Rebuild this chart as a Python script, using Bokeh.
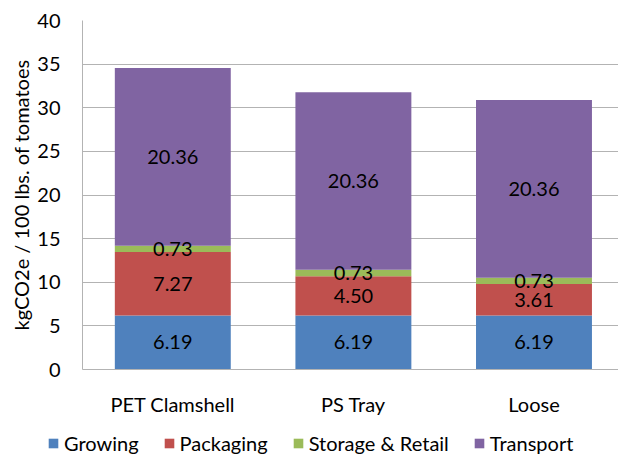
from bokeh.plotting import figure
from bokeh.layouts import column
from bokeh.models import ColumnDataSource, Range1d, FixedTicker, Legend, LegendItem
from bokeh.core.properties import value
from bokeh.embed import file_html
from bokeh.resources import INLINE

# Carbon footprint of 100 lbs. of tomatoes by packaging option
packages = ["PET Clamshell", "PS Tray", "Loose"]
stages = ["Growing", "Packaging", "Storage & Retail", "Transport"]
growing = [6.19, 6.19, 6.19]
packaging = [7.27, 4.50, 3.61]
storage_retail = [0.73, 0.73, 0.73]
transport = [20.36, 20.36, 20.36]
y_ticks = [0, 5, 10, 15, 20, 25, 30, 35, 40]

colors = ["#4F81BD", "#C0504D", "#9BBB59", "#8064A2"]
keys = ["growing", "packaging", "storage", "transport"]
series = [growing, packaging, storage_retail, transport]

FONT = "Lato"
x = [i + 0.5 for i in range(len(packages))]

data = {"x": x}
for k, s in zip(keys, series):
    data[k] = s
source = ColumnDataSource(data)

p = figure(width=618, height=425, output_backend="svg", toolbar_location=None,
           x_range=Range1d(0, 2.968), y_range=Range1d(0, 40),
           min_border_left=82, min_border_right=0, min_border_top=20,
           min_border_bottom=56)
p.outline_line_color = None
p.background_fill_color = "white"
p.border_fill_color = "white"

p.vbar_stack(keys, x="x", width=0.642, color=colors, line_color=None, source=source)

# value labels centred in each segment
lx, ly, lt = [], [], []
bottoms = [0.0] * len(packages)
for s in series:
    for i, v in enumerate(s):
        lx.append(x[i])
        ly.append(bottoms[i] + v / 2)
        lt.append(f"{v:.2f}")
        bottoms[i] += v
p.text(x=lx, y=ly, text=lt, text_align="center", text_baseline="middle",
       text_font=value(FONT), text_font_size="20px", text_color="#000000")

# axes
p.xgrid.grid_line_color = None
p.ygrid.grid_line_color = "#B3B3B3"
p.ygrid.ticker = FixedTicker(ticks=y_ticks)

p.yaxis.ticker = FixedTicker(ticks=y_ticks)
p.yaxis.axis_label = "kgCO2e / 100 lbs. of tomatoes"
p.yaxis.axis_label_text_font = FONT
p.yaxis.axis_label_text_font_style = "normal"
p.yaxis.axis_label_text_font_size = "20px"
p.yaxis.axis_label_text_color = "#000000"
p.yaxis.axis_label_standoff = 1
p.yaxis.major_label_text_font = FONT
p.yaxis.major_label_text_font_size = "20px"
p.yaxis.major_label_text_color = "#000000"
p.yaxis.major_label_standoff = 16

p.xaxis.ticker = FixedTicker(ticks=x)
p.xaxis.major_label_overrides = {xi: name for xi, name in zip(x, packages)}
p.xaxis.major_label_text_font = FONT
p.xaxis.major_label_text_font_size = "20px"
p.xaxis.major_label_text_color = "#000000"
p.xaxis.major_label_standoff = 16

for ax in (p.xaxis, p.yaxis):
    ax.axis_line_color = "#B3B3B3"
    ax.major_tick_line_color = None
    ax.minor_tick_line_color = None

# legend strip underneath the chart; its bars sit outside the visible ranges
lg = figure(width=618, height=35, output_backend="svg", toolbar_location=None,
            x_range=Range1d(100, 101), y_range=Range1d(100, 101),
            min_border_left=0, min_border_right=0, min_border_top=0,
            min_border_bottom=0, x_axis_location=None, y_axis_location=None)
lg.outline_line_color = None
lg.grid.grid_line_color = None
swatches = lg.vbar_stack(keys, x="x", width=0.642, color=colors,
                         line_color=None, source=source)
legend = Legend(items=[LegendItem(label=name, renderers=[r])
                       for name, r in zip(stages, swatches)],
                orientation="horizontal", location=(47, 5),
                glyph_width=12, glyph_height=12, label_standoff=5,
                spacing=24, padding=0, margin=0, label_height=20,
                border_line_color=None, background_fill_alpha=0,
                label_text_font=FONT, label_text_font_size="20px",
                label_text_color="#000000")
lg.add_layout(legend, "center")

layout = column(p, column(lg, spacing=0), spacing=0)
open("out.html", "w").write(file_html(layout, INLINE))
